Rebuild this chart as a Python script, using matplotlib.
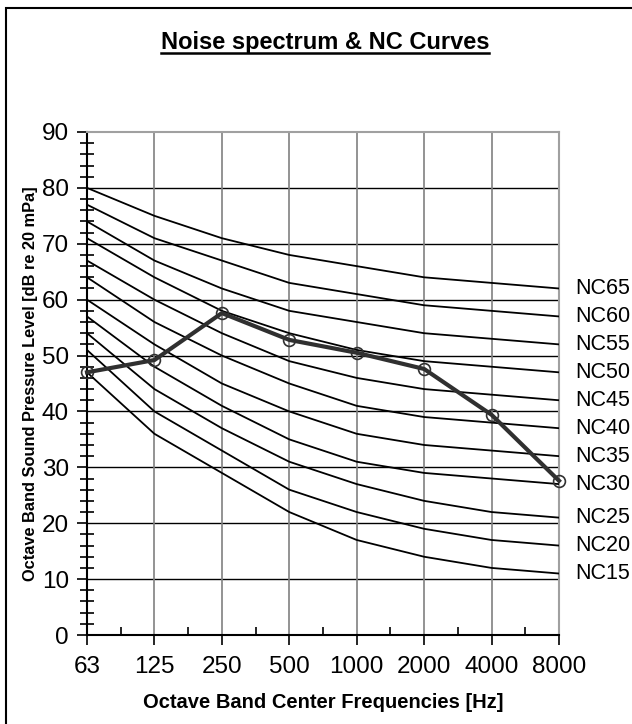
import numpy as np
import matplotlib
matplotlib.use('Agg')
import matplotlib.pyplot as plt
from matplotlib.patches import Rectangle
from matplotlib.lines import Line2D

plt.rcParams['font.family'] = ['Liberation Sans', 'DejaVu Sans']

freqs = ['63', '125', '250', '500', '1000', '2000', '4000', '8000']

# NC curves (dB) at octave band centres
nc_curves = {
    'NC15': [47, 36, 29, 22, 17, 14, 12, 11],
    'NC20': [51, 40, 33, 26, 22, 19, 17, 16],
    'NC25': [54, 44, 37, 31, 27, 24, 22, 21],
    'NC30': [57, 48, 41, 35, 31, 29, 28, 27],
    'NC35': [60, 52, 45, 40, 36, 34, 33, 32],
    'NC40': [64, 56, 50, 45, 41, 39, 38, 37],
    'NC45': [67, 60, 54, 49, 46, 44, 43, 42],
    'NC50': [71, 64, 58, 54, 51, 49, 48, 47],
    'NC55': [74, 67, 62, 58, 56, 54, 53, 52],
    'NC60': [77, 71, 67, 63, 61, 59, 58, 57],
    'NC65': [80, 75, 71, 68, 66, 64, 63, 62],
}

# measured noise spectrum
spectrum = [47.0, 49.2, 57.6, 52.8, 50.5, 47.6, 39.4, 27.6]

W, H = 632, 724
fig = plt.figure(figsize=(W / 100, H / 100), dpi=100)

# outer frame (chart is cropped on right/bottom)
fig.patches.append(Rectangle((6 / W, -0.1), 1.2, 1 - 8 / H + 0.1,
                             transform=fig.transFigure, fill=False,
                             edgecolor='black', linewidth=1.5))

ax = fig.add_axes([87 / W, (H - 635) / H, 472 / W, 503 / H])
x = np.arange(len(freqs))

for name, vals in nc_curves.items():
    ax.plot(x, vals, color='black', linewidth=1.3, zorder=3)
    ax.text(x[-1] + 0.24, vals[-1], name, fontsize=15.5, va='center',
            ha='left', clip_on=False)

ax.plot(x, spectrum, color='#303030', linewidth=3, marker='o',
        markersize=8.5, markerfacecolor='none', markeredgecolor='#303030',
        markeredgewidth=1.2, zorder=5, clip_on=False)

ax.set_xlim(0, 7)
ax.set_ylim(0, 90)
ax.set_xticks(x)
ax.set_xticklabels(freqs)
ax.set_xticks(x[:-1] + 0.5, minor=True)
ax.set_yticks(np.arange(0, 91, 10))
ax.set_yticks(np.arange(0, 91, 2), minor=True)

for v in range(10, 90, 10):
    ax.axhline(v, color='black', linewidth=1, zorder=1)
for xi in x[1:-1]:
    ax.axvline(xi, color='#808080', linewidth=1.2, zorder=1)

ax.spines['top'].set_color('#a0a0a0')
ax.spines['right'].set_color('#a0a0a0')
ax.spines['top'].set_linewidth(1.5)
ax.spines['right'].set_linewidth(1.5)
ax.spines['left'].set_linewidth(1.5)
ax.spines['bottom'].set_linewidth(1.5)

ax.tick_params(axis='both', which='major', labelsize=17.5, direction='out',
               length=7, width=1.2)
ax.tick_params(axis='x', which='major', pad=8)
ax.tick_params(axis='y', which='major', pad=6)
ax.tick_params(axis='x', which='minor', direction='in', length=6, width=1.2)
ax.tick_params(axis='y', which='minor', direction='inout', length=10, width=1.2)

ax.set_xlabel('Octave Band Center Frequencies [Hz]', fontsize=14.5,
              fontweight='bold', labelpad=11)
ax.set_ylabel('Octave Band Sound Pressure Level [dB re 20 mPa]', fontsize=11.8,
              fontweight='bold', labelpad=3)

title = fig.text(325 / W, 1 - 49 / H, 'Noise spectrum & NC Curves',
                 fontsize=17, fontweight='bold', ha='center', va='baseline')
fig.canvas.draw()
bb = title.get_window_extent()
uy = 1 - 53 / H
fig.add_artist(Line2D([bb.x0 / W, bb.x1 / W], [uy, uy],
                      transform=fig.transFigure, color='black', linewidth=1.8))

fig.savefig('out.png', dpi=100)
